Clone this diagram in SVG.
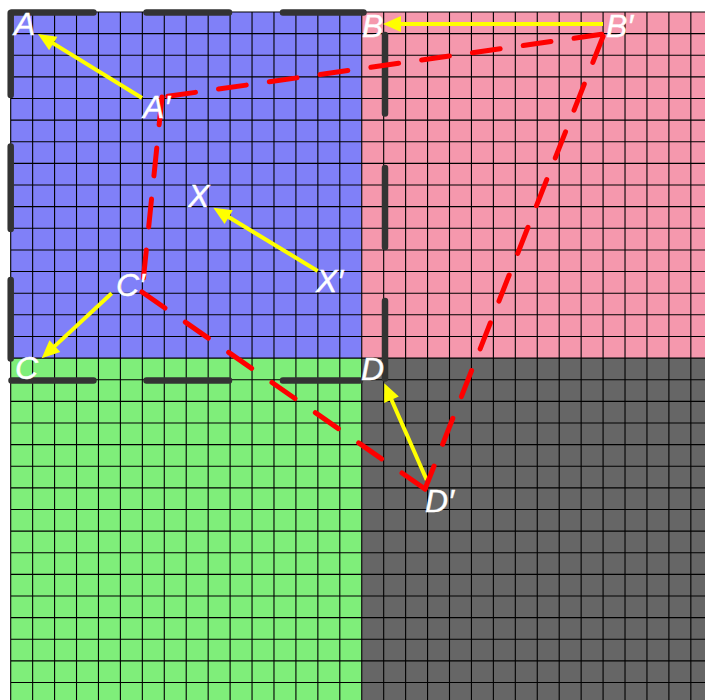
<svg xmlns="http://www.w3.org/2000/svg" width="705" height="700" viewBox="0 0 705 700">
<style>
.grid{fill:none;stroke:#000;stroke-width:1.1}
.border{fill:none;stroke:#333;stroke-width:6.5;stroke-linecap:round}
.arrow{fill:none;stroke:#ffff00;stroke-width:4;marker-end:url(#ah)}
.red{fill:none;stroke:#ff0000;stroke-width:5;stroke-linecap:round;stroke-dasharray:28 23.3}
.lbl{font-family:"Liberation Sans",Arial,Helvetica,sans-serif;font-style:italic;font-size:32px;fill:#fff;stroke:#fff;stroke-width:0.4}
</style>
<defs>
<marker id="ah" markerUnits="userSpaceOnUse" markerWidth="20" markerHeight="18" refX="2" refY="8" orient="auto" overflow="visible">
<path d="M0,0 L18,8 L0,16 Z" fill="#ffff00"/>
</marker>
</defs>
<rect width="705" height="700" fill="#fff"/>
<g id="quadrants">
<rect x="10.7" y="12" width="351.04" height="346.08" fill="#8080f8"/>
<rect x="361.74" y="12" width="343.26" height="346.08" fill="#f598ad"/>
<rect x="10.7" y="358.08" width="351.04" height="341.92" fill="#7fee7a"/>
<rect x="361.74" y="358.08" width="343.26" height="341.92" fill="#666"/>
</g>
<path class="grid" d="M10.7 12V700M32.64 12V700M54.58 12V700M76.52 12V700M98.46 12V700M120.4 12V700M142.34 12V700M164.28 12V700M186.22 12V700M208.16 12V700M230.1 12V700M252.04 12V700M273.98 12V700M295.92 12V700M317.86 12V700M339.8 12V700M361.74 12V700M383.68 12V700M405.62 12V700M427.56 12V700M449.5 12V700M471.44 12V700M493.38 12V700M515.32 12V700M537.26 12V700M559.2 12V700M581.14 12V700M603.08 12V700M625.02 12V700M646.96 12V700M668.9 12V700M690.84 12V700M10.7 12H705M10.7 33.63H705M10.7 55.26H705M10.7 76.89H705M10.7 98.52H705M10.7 120.15H705M10.7 141.78H705M10.7 163.41H705M10.7 185.04H705M10.7 206.67H705M10.7 228.3H705M10.7 249.93H705M10.7 271.56H705M10.7 293.19H705M10.7 314.82H705M10.7 336.45H705M10.7 358.08H705M10.7 379.71H705M10.7 401.34H705M10.7 422.97H705M10.7 444.6H705M10.7 466.23H705M10.7 487.86H705M10.7 509.49H705M10.7 531.12H705M10.7 552.75H705M10.7 574.38H705M10.7 596.01H705M10.7 617.64H705M10.7 639.27H705M10.7 660.9H705M10.7 682.53H705"/>
<g id="square-ABCD">
<path class="border" d="M11.5 12.5H93.5M146.5 12.5H229M283 12.5H363.5M10.7 13V95M10.7 146.5V229M10.7 280V358.5M385 35V113.5M385 168V247M385 301V378.5M11.5 380.5H93.5M146.5 380.5H229M283 380.5H360"/>
</g>
<g id="connectors">
<line class="arrow" x1="142" y1="98" x2="51.6" y2="42.4"/>
<line class="arrow" x1="603" y1="24" x2="399" y2="24"/>
<line class="arrow" x1="317.7" y1="271" x2="227" y2="216"/>
<line class="arrow" x1="111.7" y1="293.3" x2="53.4" y2="347.4"/>
<line class="arrow" x1="426.7" y1="480" x2="390.7" y2="398"/>
<line class="red" x1="163" y1="97" x2="604" y2="34" stroke-dashoffset="-4.8"/>
<line class="red" x1="162" y1="97" x2="142" y2="292"/>
<line class="red" x1="604" y1="34" x2="425" y2="489" stroke-dashoffset="-2.5"/>
<line class="red" x1="142" y1="292" x2="425" y2="489" style="stroke-dasharray:28 24.8"/>
</g>
<g id="A"><text class="lbl" x="14" y="35">A</text></g>
<g id="B"><text class="lbl" x="362" y="37">B</text></g>
<g id="C"><text class="lbl" x="15" y="379">C</text></g>
<g id="D"><text class="lbl" x="361" y="380">D</text></g>
<g id="A-prime"><text class="lbl" x="143" y="118">A′</text></g>
<g id="B-prime"><text class="lbl" x="606" y="37">B′</text></g>
<g id="C-prime"><text class="lbl" x="116" y="296">C′</text></g>
<g id="D-prime"><text class="lbl" x="425" y="512">D′</text></g>
<g id="X"><text class="lbl" x="188" y="207">X</text></g>
<g id="X-prime"><text class="lbl" x="316" y="292">X′</text></g>
</svg>
